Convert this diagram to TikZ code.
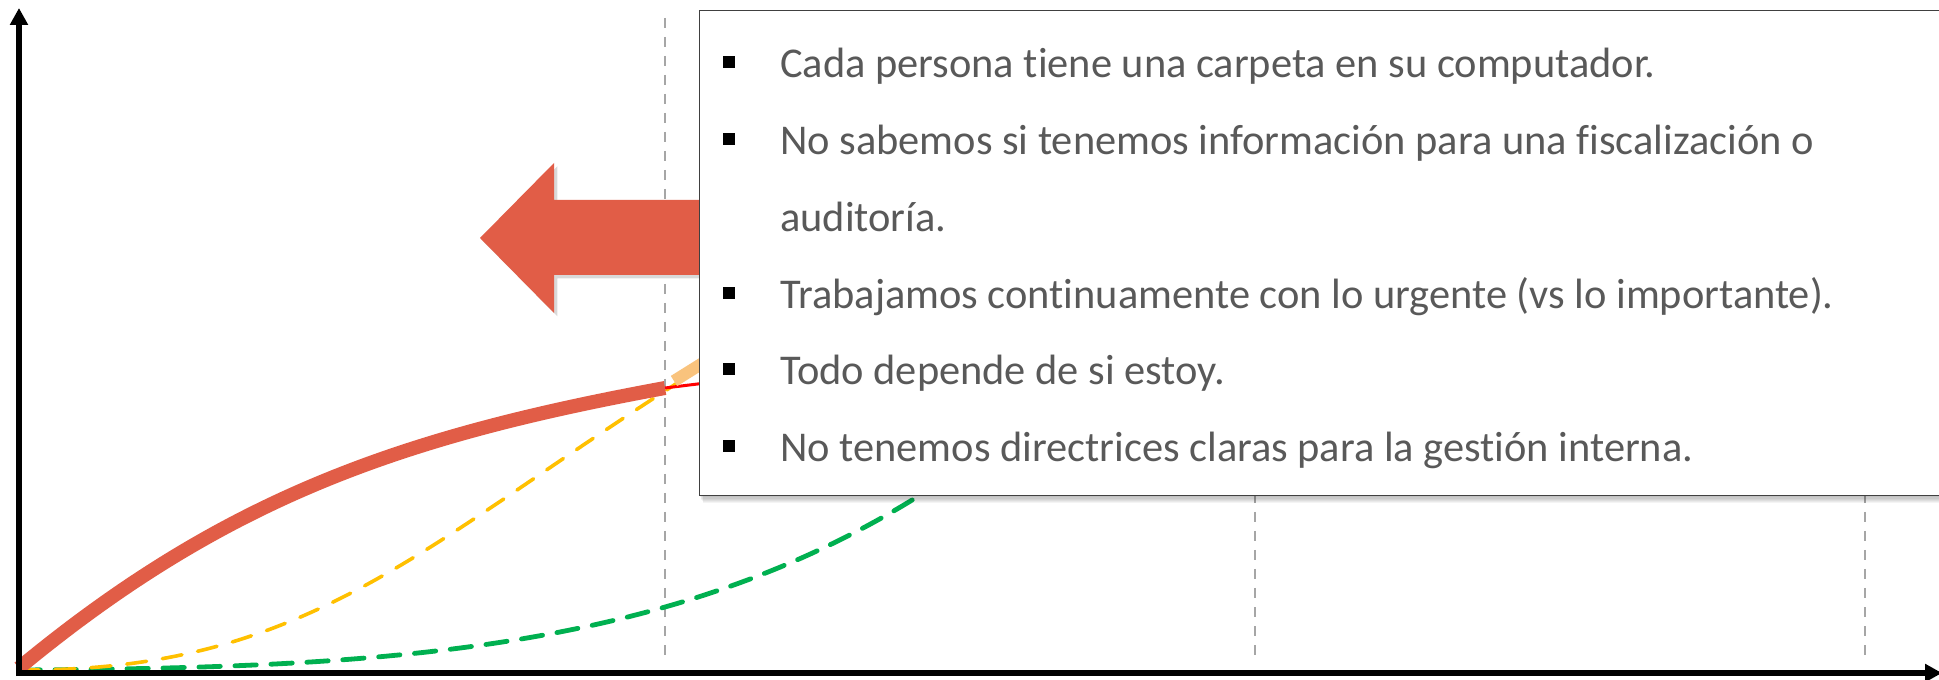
\documentclass[tikz,border=0pt]{standalone}
\usepackage{fontspec}
\setmainfont{Carlito}[Ligatures=NoCommon]
\usetikzlibrary{arrows.meta,shadows}
\definecolor{redc}{HTML}{E15D47}
\definecolor{ylw}{HTML}{FFC000}
\definecolor{grn}{HTML}{00B050}
\definecolor{lorange}{HTML}{F9C37D}
\definecolor{txtc}{HTML}{595959}
\definecolor{guidec}{HTML}{A6A6A6}
\definecolor{boxline}{HTML}{404040}
\begin{document}
\begin{tikzpicture}[x=0.75pt,y=-0.75pt,
  guide/.style={draw=guidec,line width=1.8pt,dash pattern=on 7.5pt off 6.75pt},
  axis/.style={draw=black,line width=4.5pt,-{Triangle[width=13pt,length=12.75pt]}},
  ycurve/.style={draw=ylw,line width=2.7pt,line cap=round,dash pattern=on 15pt off 12pt},
  gcurve/.style={draw=grn,line width=3.6pt,line cap=round,dash pattern=on 16pt off 11pt},
  rcurve/.style={draw=redc,line width=10.5pt},
  bullet/.style={fill=black,inner sep=0pt,minimum size=9pt},
  item/.style={anchor=base west,text=txtc,inner sep=0pt,font=\fontsize{31.8}{38}\selectfont}
]
\useasboundingbox (0,0) rectangle (1939,680);
\clip (0,0) rectangle (1939,680);
\fill[white] (0,0) rectangle (1939,680);

% guides
\coordinate (g1t) at (665,18);  \coordinate (g1b) at (665,662);
\coordinate (g2t) at (1255,18); \coordinate (g2b) at (1255,662);
\coordinate (g3t) at (1865,18); \coordinate (g3b) at (1865,662);
\draw[guide] (g1t) -- (g1b);
\draw[guide] (g2t) -- (g2b);
\draw[guide] (g3t) -- (g3b);

% curves
\coordinate (o) at (19,670);
\coordinate (rend) at (665,388);
\coordinate (yend) at (665,391);
\draw[gcurve] (o) .. controls (380,668) and (667,652) .. (917,497) -- (980,458);
\draw[ycurve] (o) .. controls (300,672) and (415,552) .. (yend) -- (720,355);
\draw[red,line width=2.25pt] (rend) -- (730,380);
\draw[lorange,line width=9pt] (674,381) -- (730,346);
\draw[rcurve] (19,668) .. controls (229,494) and (410,435) .. (rend);

% axes
\coordinate (yax0) at (19,676);
\coordinate (yax1) at (19,8);
\coordinate (xax0) at (16,673);
\coordinate (xax1) at (1942,673);
\draw[axis] (yax0) -- (yax1);
\draw[axis] (xax0) -- (xax1);

% big arrow
\fill[redc,drop shadow={shadow xshift=2.5pt,shadow yshift=-2.5pt,fill=black,opacity=0.15}]
  (480,238) -- (554,163) -- (554,200) -- (720,200) -- (720,275) -- (554,275) -- (554,313) -- cycle;

% box shadow
\foreach \i in {1,...,7}{
  \fill[black,opacity=0.045] (699+0.6*\i,10+1.2*\i) rectangle (1980,495+1.2*\i);
}
\node[draw=boxline,line width=0.9pt,fill=white,anchor=north west,inner sep=0pt,
  minimum width=960pt,minimum height=363.75pt] (box) at (699,10) {};

% items
\node[bullet] (b1) at (728.5,62.5) {};
\node[bullet] (b2) at (728.5,139.5) {};
\node[bullet] (b4) at (728.5,293.5) {};
\node[bullet] (b5) at (728.5,369.5) {};
\node[bullet] (b6) at (728.5,446.5) {};
\node[item] (t1) at (780,78) {Cada persona tiene una carpeta en su computador.};
\node[item] (t2) at (780,155) {No sabemos si tenemos información para una fiscalización o};
\node[item] (t3) at (780,232) {auditoría.};
\node[item] (t4) at (780,309) {Trabajamos continuamente con lo urgente (vs lo importante).};
\node[item] (t5) at (780,385) {Todo depende de si estoy.};
\node[item] (t6) at (780,462) {No tenemos directrices claras para la gestión interna.};
\end{tikzpicture}
\end{document}
